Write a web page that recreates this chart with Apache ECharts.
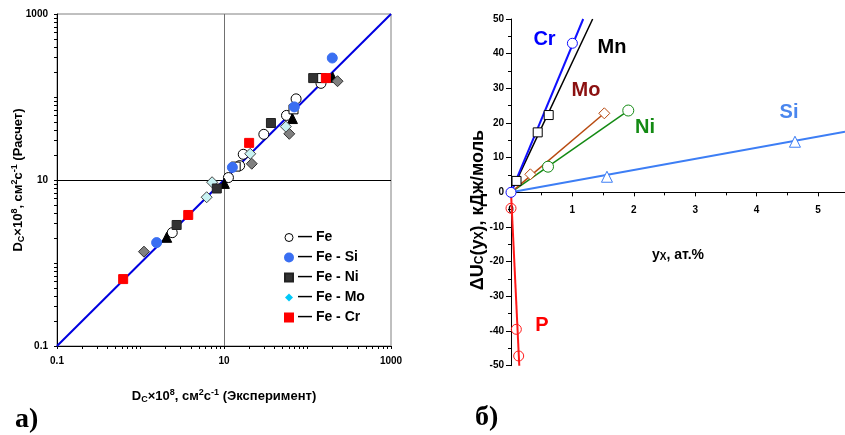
<!DOCTYPE html>
<html><head><meta charset="utf-8">
<script src="https://cdn.jsdelivr.net/npm/echarts@6/dist/echarts.min.js"></script>
<style>html,body{margin:0;padding:0;background:#fff}#c{width:845px;height:435px}</style>
</head><body><div id="c"></div>
<script>
// ---------- Panel a): [experiment, calculation] ----------
const feOpen = [[145,146],[73,95],[56,60],[30,35.5],[17,20.4],[15.4,14.9],[11.3,10.7],[2.4,2.32]];
const feSi = [[198,295],[69.5,76],[12.6,14.2],[1.56,1.76]];
const feNi = [[117,169],[36.5,48.6],[8.2,7.9],[2.71,2.87]];
const feMo = [[55,44],[20.6,20.7],[7.2,9.4],[6.2,6.2]];
const feCr = [[166,169],[20,28],[3.73,3.79],[0.62,0.64]];
const blackTriangles = [[200,173],[66,55],[10.1,9.1],[2.06,2.04]];
const grayDiamonds = [[229,155],[60.5,36],[21.5,15.7],[1.1,1.37]];
const openSquares = [[148,169],[68,71],[13.8,14.5]];
const diagLine = [[0.1,0.1],[1000,1000]];
const logTickLabels = [0.1, 10, 1000];
const legendNames = ['Fe','Fe - Si','Fe - Ni','Fe - Mo','Fe - Cr'];

// ---------- Panel б): [y_x, ΔU] ----------
const crPts = [[0,0],[1,43]];            const crLine = [[0,0],[1.176,50]];
const mnPts = [[0.09,3.3],[0.435,17.3],[0.614,22.3]]; const mnLine = [[0,0],[1.33,50]];
const moPts = [[0.315,5.2],[1.52,22.8]]; const moLine = [[0,0],[1.52,22.8]];
const niPts = [[0.603,7.4],[1.91,23.6]]; const niLine = [[0,0],[1.91,23.6]];
const siPts = [[1.563,4.5],[4.625,14.6]]; const siLine = [[0,0],[5.44,17.5]];
const pPts = [[0,-4.6],[0.087,-39.5],[0.125,-47.2]]; const pLine = [[0,0],[0.135,-50]];
const elementLabels = ['Cr','Mn','Mo','Ni','Si','P'];
const yMinB = -50, yMaxB = 50;

const F = 'Arial, "Liberation Sans", Helvetica, sans-serif';
const logMinorTicks = [];
for (let d = -1; d < 3; d++) for (let k = 1; k < 10; k++) logMinorTicks.push(+(k * Math.pow(10, d)).toPrecision(3));
logMinorTicks.push(1000);

const rich = {
  b: {fontFamily: F, fontWeight: 'bold', fontSize: 13, color: '#000', lineHeight: 17},
  sub: {fontFamily: F, fontWeight: 'bold', fontSize: 9, color: '#000', lineHeight: 9, verticalAlign: 'bottom', padding: [0,0,1,0]},
  sup: {fontFamily: F, fontWeight: 'bold', fontSize: 9, color: '#000', lineHeight: 9, verticalAlign: 'top'}
};
const nameA = (t) => '{b|D}{sub|C}{b|×10}{sup|8}{b|, см}{sup|2}{b|с}{sup|-1}{b| ' + t + '}';
const lblStyle = {fontFamily: F, fontWeight: 'bold', fontSize: 10, color: '#000'};

const chart = echarts.init(document.getElementById('c'), null, {renderer: 'canvas'});

function scat(name, data, symbol, size, color, border, grid) {
  return {type: 'scatter', name, data, symbol, symbolSize: size, xAxisIndex: grid, yAxisIndex: grid, z: 5,
    itemStyle: {color, borderColor: border, borderWidth: 1, opacity: 1}};
}
function line(data, color, width, grid) {
  return {type: 'line', data, xAxisIndex: grid, yAxisIndex: grid, symbol: 'none', z: 3,
    lineStyle: {color, width}, silent: true};
}

const markerLine = line(diagLine, '#0000e0', 2, 0);
markerLine.markLine = {silent: true, symbol: 'none', label: {show: false}, z: 1,
  lineStyle: {type: 'solid', width: 1},
  data: [{xAxis: 10, lineStyle: {color: '#707070', type: 'solid', width: 1}}, {yAxis: 10, lineStyle: {color: '#000', type: 'solid', width: 1}}]};

const labelPos = {Cr: [544.5, 39, '#0000ff'], Mn: [612, 47, '#000000'], Mo: [586, 90, '#8b1010'], Ni: [645, 127.5, '#138a13'], Si: [789, 112, '#4a86ee'], P: [542, 325, '#ff0000']};

const gridB = {left: 511, top: 19, width: 334, height: 346.7};
// place x axis of panel б at y = 0 (offset from the bottom of its grid)
const xOffsetB = -gridB.height * (0 - yMinB) / (yMaxB - yMinB);

chart.setOption({
  animation: false,
  backgroundColor: '#fff',
  textStyle: {fontFamily: F},
  grid: [
    {left: 57, top: 14, width: 334, height: 332, show: true, borderColor: '#808080', borderWidth: 1, backgroundColor: 'transparent'},
    {...gridB, show: false}
  ],
  xAxis: [
    {type: 'log', logBase: 10, min: 0.1, max: 1000, gridIndex: 0,
      name: nameA('(Эксперимент)'), nameLocation: 'middle', nameGap: 42, nameMoveOverlap: false,
      nameTextStyle: {rich},
      axisLine: {show: true, onZero: false, lineStyle: {color: '#000'}},
      axisTick: {show: true, customValues: logMinorTicks, length: 3, lineStyle: {color: '#000'}},
      axisLabel: {customValues: logTickLabels, margin: 10, ...lblStyle, formatter: v => String(v)},
      splitLine: {show: false}, minorTick: {show: false}},
    {type: 'value', min: 0, max: 5.44, interval: 1, gridIndex: 1, position: 'bottom', offset: xOffsetB,
      name: '{b|y}{sub|X}{b|, ат.%}', nameLocation: 'middle', nameGap: 54, nameMoveOverlap: false,
      nameTextStyle: {rich: {b: {...rich.b, fontSize: 14}, sub: {...rich.sub, fontSize: 10}}},
      axisLine: {show: true, onZero: false, lineStyle: {color: '#000'}},
      axisTick: {show: true, length: 4, inside: false, lineStyle: {color: '#000'}},
      minorTick: {show: true, splitNumber: 2, length: 3, lineStyle: {color: '#000'}},
      axisLabel: {margin: 13, showMaxLabel: false, ...lblStyle},
      splitLine: {show: false}}
  ],
  yAxis: [
    {type: 'log', logBase: 10, min: 0.1, max: 1000, gridIndex: 0,
      name: nameA('(Расчет)'), nameLocation: 'middle', nameGap: 30, nameRotate: 90, nameMoveOverlap: false,
      nameTextStyle: {rich},
      axisLine: {show: true, onZero: false, lineStyle: {color: '#000'}},
      axisTick: {show: true, customValues: logMinorTicks, length: 3, lineStyle: {color: '#000'}},
      axisLabel: {customValues: logTickLabels, margin: 9, ...lblStyle, formatter: v => String(v)},
      splitLine: {show: false}, minorTick: {show: false}},
    {type: 'value', min: yMinB, max: yMaxB, interval: 10, gridIndex: 1,
      axisLine: {show: true, onZero: false, lineStyle: {color: '#000'}},
      axisTick: {show: true, length: 5, lineStyle: {color: '#000'}},
      minorTick: {show: true, splitNumber: 2, length: 3, lineStyle: {color: '#000'}},
      axisLabel: {margin: 7, ...lblStyle},
      splitLine: {show: false}}
  ],
  legend: {
    show: true, orient: 'vertical', left: 279, top: 225, itemWidth: 8, itemHeight: 8, itemGap: 5,
    textStyle: {fontFamily: F, fontWeight: 'bold', fontSize: 14, color: '#000', lineHeight: 15},
    formatter: n => '— ' + n,
    data: [
      {name: 'Fe', icon: 'circle', itemStyle: {color: '#fff', borderColor: '#000', borderWidth: 1}},
      {name: 'Fe - Si', icon: 'circle'},
      {name: 'Fe - Ni', icon: 'rect'},
      {name: 'Fe - Mo', icon: 'diamond', itemStyle: {color: '#00c8f8', borderWidth: 0}},
      {name: 'Fe - Cr', icon: 'rect'}
    ]
  },
  series: [
    markerLine,
    scat('Fe', feOpen, 'circle', 10, '#ffffff', '#000', 0),
    scat('tri', blackTriangles, 'triangle', 10, '#000000', '#000', 0),
    scat('gd', grayDiamonds, 'diamond', 11, '#808080', '#333', 0),
    scat('os', openSquares, 'rect', 9, '#ffffff', '#000', 0),
    scat('Fe - Mo', feMo, 'diamond', 11, '#c8f2f2', '#444', 0),
    scat('Fe - Ni', feNi, 'rect', 9, '#333333', '#222', 0),
    scat('Fe - Cr', feCr, 'rect', 9, '#ff0000', '#ff0000', 0),
    scat('Fe - Si', feSi, 'circle', 10, '#3a6ff2', '#3a6ff2', 0),
    // panel б
    line(siLine, '#3d7ef5', 2, 1),
    line(niLine, '#138a13', 1.5, 1),
    line(moLine, '#b84a10', 1.5, 1),
    line(mnLine, '#000000', 1.5, 1),
    line(crLine, '#1010ff', 2, 1),
    line(pLine, '#ff1a1a', 2, 1),
    scat('si', siPts, 'triangle', 11, '#fff', '#3d7ef5', 1),
    scat('ni', niPts, 'circle', 11, '#fff', '#138a13', 1),
    scat('mo', moPts, 'diamond', 11, '#fff', '#b84a10', 1),
    scat('mn', mnPts, 'rect', 9, '#fff', '#000', 1),
    scat('cr', crPts, 'circle', 10, '#fff', '#1010ff', 1),
    scat('p', pPts, 'circle', 10, 'rgba(255,255,255,0)', '#ff1a1a', 1)
  ],
  graphic: [
    {type: 'text', left: 15, top: 406, style: {text: 'а)', font: 'bold 28px "Liberation Serif", "Times New Roman", serif', fill: '#000'}},
    {type: 'text', left: 475, top: 404, style: {text: 'б)', font: 'bold 28px "Liberation Serif", "Times New Roman", serif', fill: '#000'}},
    {type: 'text', x: 478, y: 210, rotation: Math.PI / 2,
      style: {text: '{b|ΔU}{sub|C}{b|(y}{sub|X}{b|), кДж/моль}', align: 'center', verticalAlign: 'middle',
        rich: {b: {...rich.b, fontSize: 18}, sub: {...rich.sub, fontSize: 12}}}},
    ...elementLabels.map(n => ({type: 'text', x: labelPos[n][0], y: labelPos[n][1],
      style: {text: n, font: 'bold 20px ' + F, fill: labelPos[n][2], align: 'center', verticalAlign: 'middle'}}))
  ]
});
</script></body></html>
